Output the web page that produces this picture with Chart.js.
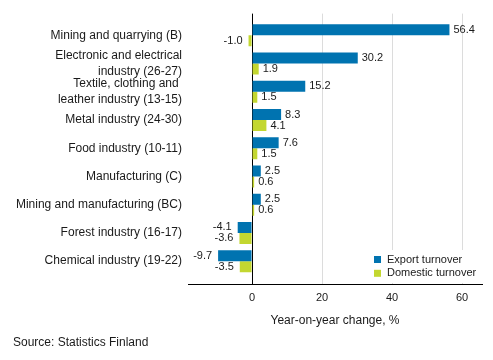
<!DOCTYPE html>
<html>
<head>
<meta charset="utf-8">
<script src="https://cdn.jsdelivr.net/npm/chart.js@4/dist/chart.umd.min.js"></script>
<style>
  html, body { margin: 0; padding: 0; background: #fff; }
  #wrap { width: 493px; height: 360px; position: relative; }
</style>
</head>
<body>
<div id="wrap"><canvas id="c" width="493" height="360"></canvas></div>
<script>
const categories = [
  "Mining and quarrying (B)",
  ["Electronic and electrical", "industry (26-27)"],
  ["Textile, clothing and ", "leather industry (13-15)"],
  "Metal industry (24-30)",
  "Food industry (10-11)",
  "Manufacturing (C)",
  "Mining and manufacturing (BC)",
  "Forest industry (16-17)",
  "Chemical industry (19-22)"
];
const exportTurnover = [56.4, 30.2, 15.2, 8.3, 7.6, 2.5, 2.5, -4.1, -9.7];
const domesticTurnover = [-1.0, 1.9, 1.5, 4.1, 1.5, 0.6, 0.6, -3.6, -3.5];
const xTickValues = [0, 20, 40, 60];
const seriesNames = ["Export turnover", "Domestic turnover"];
const axisTitle = "Year-on-year change, %";
const sourceText = "Source: Statistics Finland";

const FONT = "'Liberation Sans', Arial, Helvetica, sans-serif";
const BLUE = "#0073b0";
const GREEN = "#c3d730";

const toPoints = arr => arr.map((v, i) => ({ x: v, y: i }));

const labelPlugin = {
  id: 'valueLabels',
  afterDatasetsDraw(chart) {
    const ctx = chart.ctx;
    ctx.save();
    ctx.font = "11px " + FONT;
    ctx.fillStyle = "#1a1a1a";
    ctx.textBaseline = "middle";
    chart.data.datasets.forEach((ds, di) => {
      const meta = chart.getDatasetMeta(di);
      meta.data.forEach((el, i) => {
        const v = ds.data[i].x;
        const txt = v.toFixed(1);
        if (v >= 0) {
          ctx.textAlign = "left";
          ctx.fillText(txt, el.x + 4, el.y);
        } else {
          ctx.textAlign = "right";
          ctx.fillText(txt, el.x - 6, el.y);
        }
      });
    });
    ctx.restore();
  }
};

const legendPlugin = {
  id: 'insideLegend',
  afterDraw(chart) {
    const ctx = chart.ctx;
    const area = chart.chartArea;
    ctx.save();
    ctx.fillStyle = "#fff";
    ctx.fillRect(368, 250, area.right - 368, area.bottom - 250 - 1);
    ctx.font = "11px " + FONT;
    ctx.textBaseline = "middle";
    ctx.textAlign = "left";
    chart.data.datasets.forEach((ds, di) => {
      const cy = 259.5 + di * 13.8;
      ctx.fillStyle = ds.backgroundColor;
      ctx.fillRect(374, cy - 3.5, 7, 7);
      ctx.fillStyle = "#1a1a1a";
      ctx.fillText(ds.label, 387, cy);
    });
    ctx.font = "12px " + FONT;
    ctx.fillStyle = "#1a1a1a";
    ctx.fillText(sourceText, 13, 343);
    ctx.restore();
  }
};

new Chart(document.getElementById('c'), {
  type: 'bar',
  data: {
    datasets: [
      { label: seriesNames[0], data: toPoints(exportTurnover), backgroundColor: BLUE, borderWidth: 0 },
      { label: seriesNames[1], data: toPoints(domesticTurnover), backgroundColor: GREEN, borderWidth: 0 }
    ]
  },
  options: {
    indexAxis: 'y',
    responsive: false,
    animation: false,
    devicePixelRatio: 1,
    layout: { padding: { top: 11, right: 11, left: 0, bottom: 32 } },
    datasets: { bar: { categoryPercentage: 0.78, barPercentage: 1 } },
    plugins: { legend: { display: false }, tooltip: { enabled: false } },
    scales: {
      x: {
        type: 'linear',
        position: 'bottom',
        min: -18.3,
        max: 65.7,
        afterBuildTicks: s => { s.ticks = xTickValues.map(v => ({ value: v })); },
        afterFit: s => { s.height = 44; },
        ticks: { font: { family: FONT, size: 11 }, color: "#1a1a1a", padding: 7, maxRotation: 0, autoSkip: false },
        grid: {
          drawTicks: false,
          color: ctx => (ctx.tick && ctx.tick.value === 0) ? "#000" : "#dcdcdc",
          lineWidth: 1
        },
        border: { display: true, color: "#000", width: 1 },
        title: { display: true, text: axisTitle, font: { family: FONT, size: 12, lineHeight: 1.2 }, color: "#1a1a1a", padding: { top: 0, bottom: 0 } }
      },
      y: {
        type: 'linear',
        reverse: true,
        offset: false,
        min: -0.77,
        max: 8.81,
        afterBuildTicks: s => { s.ticks = categories.map((c, i) => ({ value: i })); },
        afterFit: s => { s.width = 188; },
        ticks: {
          font: { family: FONT, size: 12, lineHeight: 1.27 },
          color: "#1a1a1a",
          padding: 6,
          autoSkip: false,
          maxRotation: 0,
          callback: (v) => categories[v]
        },
        grid: { display: false, drawTicks: false, offset: false },
        border: { display: false }
      }
    }
  },
  plugins: [labelPlugin, legendPlugin]
});
</script>
</body>
</html>
